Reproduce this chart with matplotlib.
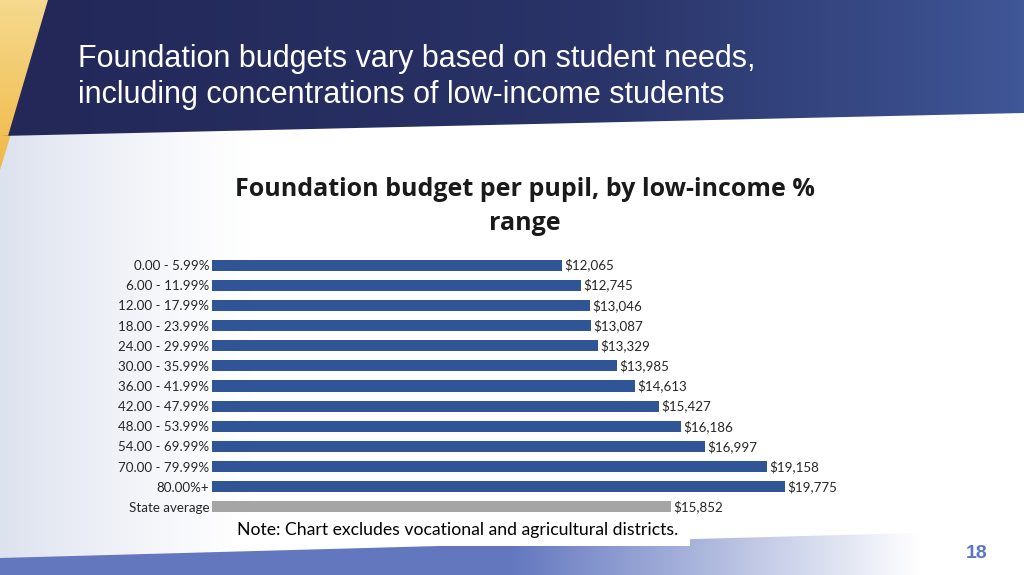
import numpy as np
import matplotlib.pyplot as plt
from matplotlib.patches import Polygon, Rectangle
from matplotlib.colors import LinearSegmentedColormap

categories = ['0.00 - 5.99%', '6.00 - 11.99%', '12.00 - 17.99%', '18.00 - 23.99%',
              '24.00 - 29.99%', '30.00 - 35.99%', '36.00 - 41.99%', '42.00 - 47.99%',
              '48.00 - 53.99%', '54.00 - 69.99%', '70.00 - 79.99%', '80.00%+',
              'State average']
values = [12065, 12745, 13046, 13087, 13329, 13985, 14613, 15427,
          16186, 16997, 19158, 19775, 15852]
bar_colors = ['#2F5597'] * 12 + ['#A5A5A5']

W, H = 1024, 575
fig = plt.figure(figsize=(W / 100, H / 100), dpi=100)

# slide background in pixel coordinates
bg = fig.add_axes([0, 0, 1, 1])
bg.set_xlim(0, W)
bg.set_ylim(H, 0)
bg.axis('off')

# light left-side wash
xs = np.linspace(0, 1, 256)
wash = np.ones((2, 256, 4))
wash[..., 0] = 0.87
wash[..., 1] = 0.89
wash[..., 2] = 0.94
wash[..., 3] = np.clip(1 - xs / 0.25, 0, 1)[None, :] ** 1.3
bg.imshow(wash, extent=[0, W, H, 130], aspect='auto', zorder=0)

# yellow wedge
ywedge = Polygon([[0, 0], [52, 0], [0, 170]], closed=True,
                 facecolor='none', edgecolor='none')
bg.add_patch(ywedge)
yellow = LinearSegmentedColormap.from_list('yel', ['#F6D98E', '#F0B947'])
yim = bg.imshow(np.linspace(0, 1, 64)[:, None], cmap=yellow,
                extent=[0, 60, 170, 0], aspect='auto', zorder=1)
yim.set_clip_path(ywedge)

# navy header with gradient
header = Polygon([[48, 0], [W, 0], [W, 113], [0, 136], [8, 136]], closed=True,
                 facecolor='none', edgecolor='none')
bg.add_patch(header)
navy = LinearSegmentedColormap.from_list('navy', ['#232859', '#2A3468', '#3F5697'])
grad = np.tile(np.linspace(0, 1, 256) ** 1.3, (2, 1))
im = bg.imshow(grad, cmap=navy, extent=[0, W, 140, 0], aspect='auto', zorder=2)
im.set_clip_path(header)

# bottom band
band = Polygon([[0, 558], [W, 530], [W, H], [0, H]], closed=True,
               facecolor='none', edgecolor='none')
bg.add_patch(band)
bandimg = np.ones((2, 256, 4))
bandimg[..., 0] = 0.39
bandimg[..., 1] = 0.47
bandimg[..., 2] = 0.75
bandimg[..., 3] = np.clip(1 - (xs - 0.5) / 0.4, 0, 1)[None, :]
bim = bg.imshow(bandimg, extent=[0, W, H, 525], aspect='auto', zorder=2)
bim.set_clip_path(band)

# slide title
title_font = ['Liberation Sans Narrow', 'Liberation Sans']
bg.text(78, 67, 'Foundation budgets vary based on student needs,', color='white',
        fontsize=22, family=title_font, va='baseline', ha='left', zorder=3)
bg.text(78, 103, 'including concentrations of low-income students', color='white',
        fontsize=22, family=title_font, va='baseline', ha='left', zorder=3)

# chart title
bg.text(525, 190, 'Foundation budget per pupil, by low-income %', ha='center', va='center',
        fontsize=18, fontweight='bold', family='Open Sans', color='#1a1a1a', zorder=3)
bg.text(525, 224, 'range', ha='center', va='center',
        fontsize=18, fontweight='bold', family='Open Sans', color='#1a1a1a', zorder=3)

# note box
bg.add_patch(Rectangle((232, 515), 458, 31, facecolor='white', edgecolor='none', zorder=3))
bg.text(237, 530, 'Note: Chart excludes vocational and agricultural districts.',
        ha='left', va='center', fontsize=12.7, family='Lato', color='black', zorder=4)

# page number
bg.text(977, 553, '18', ha='center', va='center', fontsize=14, fontweight='bold',
        family=title_font, color='#5B75C4', zorder=4)

# bar chart
x0 = 212
px_per = (785 - 212) / 19775
xmax = 22000
ax = fig.add_axes([x0 / W, 1 - 517 / H, xmax * px_per / W, 262 / H])
ax.patch.set_alpha(0)
y = np.arange(len(categories))
ax.barh(y, values, height=0.55, color=bar_colors)
ax.set_ylim(len(categories) - 0.5, -0.5)
ax.set_xlim(0, xmax)
ax.set_yticks(y)
ax.set_yticklabels(categories, family='Lato', fontsize=9.6, color='#262626')
ax.tick_params(axis='y', length=0, pad=2)
ax.set_xticks([])
for s in ax.spines.values():
    s.set_visible(False)
for yi, v in zip(y, values):
    ax.text(v + 80, yi, f'${v:,}', va='center', ha='left', family='Lato',
            fontsize=9.6, color='#262626')

fig.savefig('out.png', dpi=100)
